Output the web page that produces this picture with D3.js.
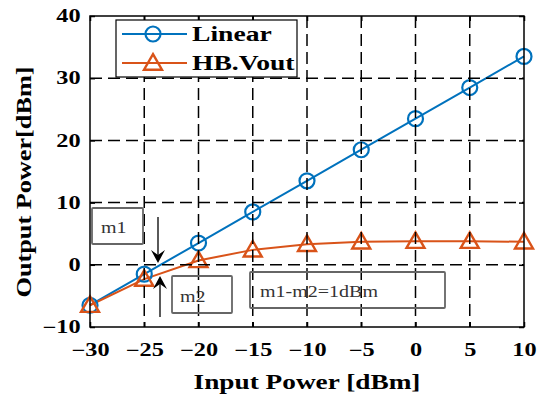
<!DOCTYPE html>
<html><head><meta charset="utf-8">
<script src="https://cdn.jsdelivr.net/npm/d3@7"></script>
<style>body{margin:0;background:#fff}svg{display:block}</style>
</head><body>
<svg id="c" width="542" height="394"></svg>
<script>
const inputPower = [-30,-25,-20,-15,-10,-5,0,5,10];
const linearOut = [-6.5,-1.5,3.5,8.5,13.5,18.5,23.5,28.5,33.5];
const hbVout = [-6.5,-2.3,0.7,2.4,3.3,3.7,3.8,3.8,3.7];
const xTicks = [-30,-25,-20,-15,-10,-5,0,5,10];
const yTicks = [-10,0,10,20,30,40];
const seriesNames = ["Linear","HB.Vout"];
const annotations = ["m1","m2","m1-m2=1dBm"];

const svg = d3.select("#c");
const L=90,R=524,T=16,B=327;
const x = d3.scaleLinear().domain([-30,10]).range([L,R]);
const y = d3.scaleLinear().domain([-10,40]).range([B,T]);
const font = "'Liberation Serif','Times New Roman',serif";
const blue="#0072BD", orange="#D95319";
const SX = 1.35;

// lines (drawn under grid)
const line = d3.line().x((d,i)=>x(inputPower[i])).y(d=>y(d));
svg.append("path").datum(linearOut).attr("d",line).attr("fill","none").attr("stroke",blue).attr("stroke-width",2);
svg.append("path").datum(hbVout).attr("d",line).attr("fill","none").attr("stroke",orange).attr("stroke-width",2);
svg.selectAll(".cm").data(linearOut).enter().append("circle")
 .attr("cx",(d,i)=>x(inputPower[i])).attr("cy",d=>y(d)).attr("r",7.5)
 .attr("fill","none").attr("stroke",blue).attr("stroke-width",2.2);
const tri = d3.symbol().type(d3.symbolTriangle).size(140);
svg.selectAll(".tm").data(hbVout).enter().append("path")
 .attr("d",tri).attr("transform",(d,i)=>`translate(${x(inputPower[i])},${y(d)+1.5})`)
 .attr("fill","none").attr("stroke",orange).attr("stroke-width",2.4);

// grid
const g = svg.append("g");
g.selectAll(".vx").data(xTicks.slice(1,-1)).enter().append("line")
 .attr("x1",d=>x(d)).attr("x2",d=>x(d)).attr("y1",T).attr("y2",B)
 .attr("stroke","#000").attr("stroke-width",1.5).attr("stroke-dasharray","12,6");
g.selectAll(".hy").data(yTicks.slice(1,-1)).enter().append("line")
 .attr("y1",d=>y(d)).attr("y2",d=>y(d)).attr("x1",L).attr("x2",R)
 .attr("stroke","#000").attr("stroke-width",1.5).attr("stroke-dasharray","12,6");

// axes
const xa = svg.append("g").attr("transform",`translate(0,${B})`)
 .call(d3.axisBottom(x).tickValues(xTicks).tickSizeInner(-5).tickSizeOuter(0).tickPadding(16));
const xt = svg.append("g").attr("transform",`translate(0,${T})`)
 .call(d3.axisTop(x).tickValues(xTicks).tickSizeInner(-5).tickSizeOuter(0).tickFormat(""));
const ya = svg.append("g").attr("transform",`translate(${L},0)`)
 .call(d3.axisLeft(y).tickValues(yTicks).tickSizeInner(-5).tickSizeOuter(0).tickPadding(7));
const yr = svg.append("g").attr("transform",`translate(${R},0)`)
 .call(d3.axisRight(y).tickValues(yTicks).tickSizeInner(-5).tickSizeOuter(0).tickFormat(""));
[xa,xt,ya,yr].forEach(a=>{
  a.select(".domain").remove();
  a.selectAll("line").attr("stroke","#000").attr("stroke-width",1.5);
  a.selectAll("text").attr("font-family",font).attr("font-weight","bold").attr("font-size",18)
   .attr("fill","#000").attr("transform",`scale(${SX},1)`);
});
svg.append("rect").attr("x",L).attr("y",T).attr("width",R-L).attr("height",B-T)
 .attr("fill","none").attr("stroke","#000").attr("stroke-width",1.5);

function stext(parent, tx, ty, str, size, bold, anchor, sx, rot){
  return parent.append("text")
   .attr("transform",`translate(${tx},${ty})${rot?` rotate(${rot})`:""} scale(${sx},1)`)
   .attr("text-anchor",anchor||"start").text(str)
   .attr("font-family",font).attr("font-weight",bold?"bold":"normal").attr("font-size",size);
}

// legend
const lg = svg.append("g");
lg.append("rect").attr("x",116).attr("y",20).attr("width",181).attr("height",57)
 .attr("fill","#fff").attr("stroke","#000").attr("stroke-width",1.2);
[blue,orange].forEach((c,i)=>{
  const yy = 34+i*29;
  lg.append("line").attr("x1",122).attr("x2",187).attr("y1",yy).attr("y2",yy).attr("stroke",c).attr("stroke-width",2);
  if(i===0) lg.append("circle").attr("cx",153).attr("cy",yy).attr("r",7.5).attr("fill","none").attr("stroke",c).attr("stroke-width",2.2);
  else lg.append("path").attr("d",tri).attr("transform",`translate(153,${yy+1.5})`).attr("fill","none").attr("stroke",c).attr("stroke-width",2.4);
  stext(lg,192,yy+7,seriesNames[i],20,true,"start",1.38).attr("fill","#000");
});

// annotations
const boxes = [[92,208,51,36,101,233],[172,276,60,37,180,302],[250,272,195,36,260,297]];
boxes.forEach((b,i)=>{
  svg.append("rect").attr("x",b[0]).attr("y",b[1]).attr("width",b[2]).attr("height",b[3])
   .attr("fill","none").attr("stroke","#666").attr("stroke-width",1.8).attr("rx",1);
  stext(svg,b[4],b[5],annotations[i],16,false,"start",1.25).attr("fill","#333");
});
// arrows
svg.append("line").attr("x1",158).attr("x2",158).attr("y1",217).attr("y2",258).attr("stroke","#000").attr("stroke-width",1.3);
svg.append("path").attr("d","M151,250 L158,263 L165,250 L158,255 Z").attr("fill","#000");
svg.append("line").attr("x1",160).attr("x2",160).attr("y1",317).attr("y2",281).attr("stroke","#000").attr("stroke-width",1.3);
svg.append("path").attr("d","M153,289 L160,276 L167,289 L160,284 Z").attr("fill","#000");

// axis titles
stext(svg,307,389,"Input Power [dBm]",21,true,"middle",1.3).attr("fill","#000");
stext(svg,31,182,"Output Power[dBm]",21,true,"middle",1.25,-90).attr("fill","#000");
</script>
</body></html>
